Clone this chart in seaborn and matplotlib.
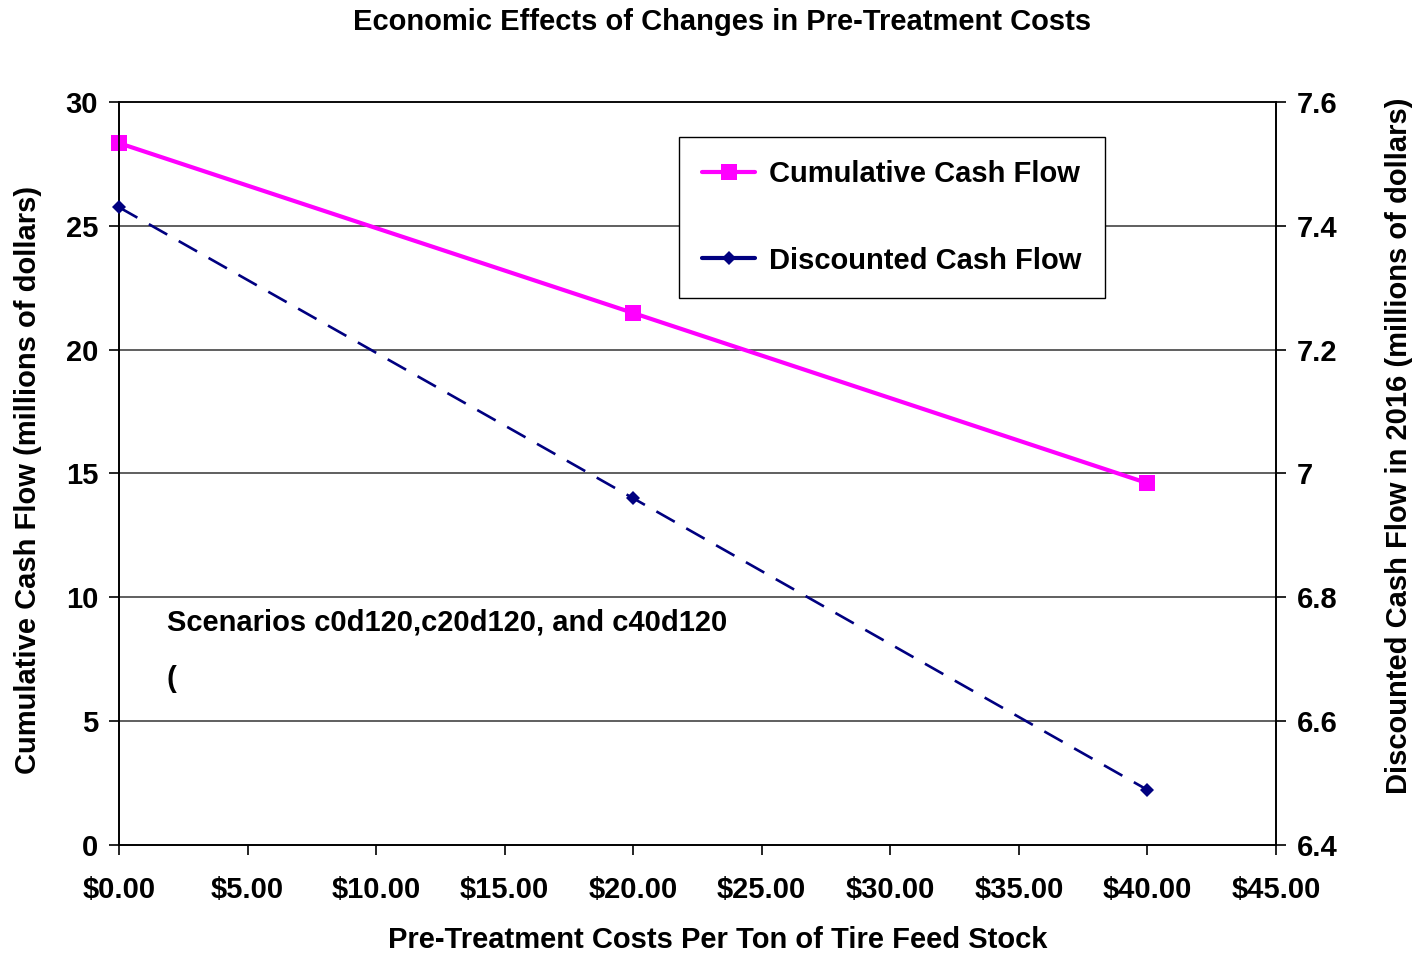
import matplotlib
matplotlib.use("Agg")
import matplotlib.pyplot as plt
import seaborn as sns
import pandas as pd
from matplotlib.lines import Line2D

costs = [0, 20, 40]
cumulative = [28.34, 21.48, 14.61]
discounted = [7.430, 6.960, 6.489]
x_ticks = [0, 5, 10, 15, 20, 25, 30, 35, 40, 45]
left_ticks = [0, 5, 10, 15, 20, 25, 30]
right_ticks = [6.4, 6.6, 6.8, 7.0, 7.2, 7.4, 7.6]
right_labels = ["6.4", "6.6", "6.8", "7", "7.2", "7.4", "7.6"]

sns.set_style("white")
plt.rcParams['font.family'] = ['Liberation Sans', 'DejaVu Sans']
plt.rcParams['font.weight'] = 'bold'
plt.rcParams['text.color'] = 'black'
plt.rcParams['axes.labelcolor'] = 'black'

df = pd.DataFrame({"cost": costs, "cum": cumulative, "disc": discounted})

fig = plt.figure(figsize=(14.25, 9.55), dpi=100)
ax = fig.add_axes([0.0835, 0.1152, 0.8119, 0.778])
ax2 = ax.twinx()

for y in left_ticks[1:-1]:
    ax.axhline(y, color='#444444', lw=1.2, zorder=0)

sns.lineplot(data=df, x="cost", y="cum", ax=ax, color='#FF00FF', lw=3,
             marker='s', markersize=12, markeredgewidth=0, zorder=3, clip_on=False)
sns.lineplot(data=df, x="cost", y="disc", ax=ax2, color='#000080', lw=1.9,
             marker='D', markersize=7, markeredgewidth=0, zorder=3, clip_on=False,
             dashes=False, linestyle=(0, (8, 5)))

ax.set_xlim(0, 45)
ax.set_ylim(0, 30)
ax2.set_ylim(6.4, 7.6)
ax.set_xticks(x_ticks)
ax.set_xticklabels([f"${v:.2f}" for v in x_ticks])
ax.set_yticks(left_ticks)
ax2.set_yticks(right_ticks)
ax2.set_yticklabels(right_labels)

for a in (ax, ax2):
    for s in a.spines.values():
        s.set_color('black')
        s.set_linewidth(1.2)
    a.tick_params(axis='both', which='both', direction='out', length=7, width=1.2,
                  labelsize=21, colors='black')
ax.tick_params(axis='x', pad=15, bottom=True)
ax.tick_params(axis='y', left=True, pad=8)
ax2.tick_params(axis='y', right=True, pad=8)
ax.spines['top'].set_color('#444444')

ax.set_xlabel("Pre-Treatment Costs Per Ton of Tire Feed Stock", fontsize=21,
              fontweight='bold', labelpad=16)
ax.set_ylabel("Cumulative Cash Flow (millions of dollars)", fontsize=21,
              fontweight='bold', labelpad=17)
ax2.set_ylabel("Discounted Cash Flow in 2016 (millions of dollars)", fontsize=21,
               fontweight='bold', labelpad=34)
ax.xaxis.label.set_x(0.5177)
ax.yaxis.label.set_y(0.491)
ax2.yaxis.label.set_y(0.538)
fig.suptitle("Economic Effects of Changes in Pre-Treatment Costs", fontsize=21,
             fontweight='bold', y=0.992, x=0.5067)

ax.text(1.85, 9.0, "Scenarios c0d120,c20d120, and c40d120", fontsize=21,
        fontweight='bold', va='center')
ax.text(1.85, 6.7, "(", fontsize=21, fontweight='bold', va='center')

handles = [
    Line2D([], [], color='#FF00FF', lw=3, marker='s', markersize=12, markeredgewidth=0),
    Line2D([], [], color='#000080', lw=3, marker='D', markersize=7, markeredgewidth=0),
]
leg = ax.legend(handles, ["Cumulative Cash Flow", "Discounted Cash Flow"],
                loc='upper left', bbox_to_anchor=(0.484, 0.953), fontsize=21,
                frameon=True, fancybox=False, edgecolor='black', framealpha=1,
                borderpad=0.8, labelspacing=2.0, handlelength=1.8, handletextpad=0.5,
                borderaxespad=0)
leg.get_frame().set_linewidth(1.0)
if ax2.get_legend():
    ax2.get_legend().remove()

fig.savefig("out.png", dpi=100)
